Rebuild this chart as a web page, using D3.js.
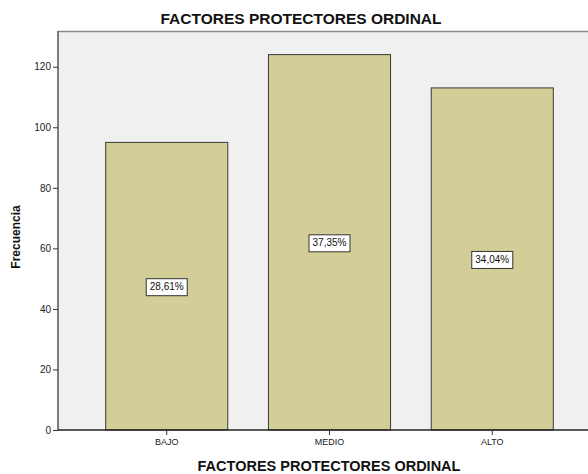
<!DOCTYPE html>
<html><head><meta charset="utf-8">
<script src="https://cdn.jsdelivr.net/npm/d3@7"></script>
<style>body{margin:0;background:#fff;}svg{display:block;font-family:Arial,"Liberation Sans",sans-serif;}</style>
</head><body>
<script>
const categories = ["BAJO", "MEDIO", "ALTO"];
const counts = [95, 124, 113];
const percentLabels = ["28,61%", "37,35%", "34,04%"];
const yTicks = [0, 20, 40, 60, 80, 100, 120];
const titleText = "FACTORES PROTECTORES ORDINAL";
const xTitleText = "FACTORES PROTECTORES ORDINAL";
const yTitleText = "Frecuencia";

(function () {
const W = 588, H = 474;
const pLeft = 58, pTop = 31, pBottom = 430, rightRange = 601;
const svg = d3.select("body").append("svg").attr("width", W).attr("height", H);

const x = d3.scaleBand().domain(categories).range([pLeft, rightRange]).paddingInner(0.25).paddingOuter(0.293);
const y = d3.scaleLinear().domain([0, 131.8]).range([pBottom, pTop]);

// plot background
svg.append("rect").attr("x", pLeft).attr("y", pTop).attr("width", W - pLeft).attr("height", pBottom - pTop)
  .attr("fill", "#f0f0f0");
svg.append("line").attr("x1", pLeft).attr("x2", W).attr("y1", pTop + 0.5).attr("y2", pTop + 0.5)
  .attr("stroke", "#8a8a8a").attr("stroke-width", 1.5);

// bars
svg.selectAll("rect.bar").data(categories).enter().append("rect").attr("class", "bar")
  .attr("x", d => x(d)).attr("width", x.bandwidth())
  .attr("y", (d, i) => y(counts[i])).attr("height", (d, i) => y(0) - y(counts[i]))
  .attr("fill", "#d3ce98").attr("stroke", "#3a3a3a").attr("stroke-width", 1);

// y axis
const yAxis = d3.axisLeft(y).tickValues(yTicks).tickSize(5).tickPadding(2).tickFormat(d3.format("d"));
const gy = svg.append("g").attr("transform", `translate(${pLeft},0)`).call(yAxis);
gy.select(".domain").attr("stroke", "#555").attr("stroke-width", 1.5).attr("d", `M0,${pBottom}V${pTop}`);
gy.selectAll(".tick line").attr("stroke", "#333");
gy.selectAll(".tick text").attr("font-size", 10).attr("fill", "#222").attr("font-family", "Arial, Liberation Sans, sans-serif");

// x axis
const xAxis = d3.axisBottom(x).tickSize(5).tickPadding(4);
const gx = svg.append("g").attr("transform", `translate(0,${pBottom})`).call(xAxis);
gx.select(".domain").attr("stroke", "#222").attr("stroke-width", 1.5).attr("d", `M${pLeft},0H${W}`);
gx.selectAll(".tick line").attr("stroke", "#333");
gx.selectAll(".tick text").attr("font-size", 9).attr("fill", "#222").attr("font-family", "Arial, Liberation Sans, sans-serif");

// percent labels
categories.forEach((c, i) => {
  const cx = x(c) + x.bandwidth() / 2;
  const cy = (y(counts[i]) + y(0)) / 2;
  const g = svg.append("g");
  g.append("rect").attr("x", cx - 20.5).attr("y", cy - 7.5).attr("width", 41).attr("height", 17)
    .attr("fill", "#fff").attr("stroke", "#333").attr("stroke-width", 1);
  g.append("text").attr("x", cx).attr("y", cy + 1).attr("text-anchor", "middle")
    .attr("dominant-baseline", "middle").attr("font-size", 10).attr("fill", "#111").text(percentLabels[i]);
});

// titles
svg.append("text").attr("x", 301).attr("y", 24).attr("text-anchor", "middle")
  .attr("font-size", 15.5).attr("font-weight", "bold").attr("fill", "#111").text(titleText);
svg.append("text").attr("x", 329).attr("y", 471).attr("text-anchor", "middle")
  .attr("font-size", 14.5).attr("font-weight", "bold").attr("fill", "#111").text(xTitleText);
svg.append("text").attr("transform", "translate(20,237) rotate(-90)").attr("text-anchor", "middle")
  .attr("font-size", 12).attr("font-weight", "bold").attr("fill", "#111").text(yTitleText);
})();
</script>
</body></html>
